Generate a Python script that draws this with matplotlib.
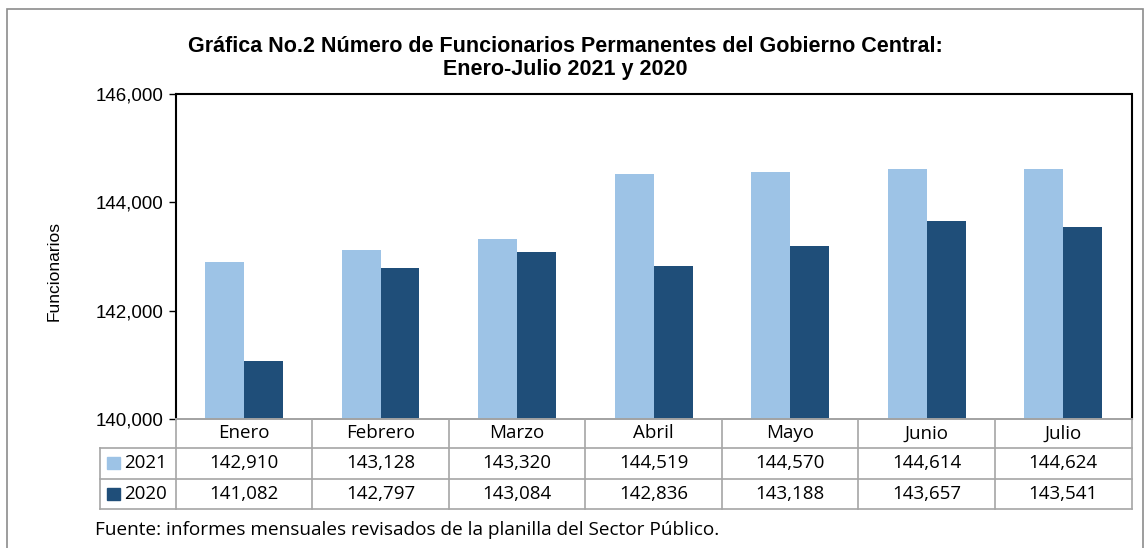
import matplotlib
matplotlib.use("Agg")
import matplotlib.pyplot as plt
import numpy as np
from matplotlib.patches import Rectangle
from matplotlib.lines import Line2D
from matplotlib.ticker import FuncFormatter

meses = ["Enero", "Febrero", "Marzo", "Abril", "Mayo", "Junio", "Julio"]
v2021 = [142910, 143128, 143320, 144519, 144570, 144614, 144624]
v2020 = [141082, 142797, 143084, 142836, 143188, 143657, 143541]
series = [("2021", v2021, "#9DC3E6"), ("2020", v2020, "#1F4E79")]

W, H = 1144, 548
fig = plt.figure(figsize=(W / 100, H / 100), dpi=100)

# axes placement in pixels
left, right, top, bottom = 175.7, 1131.5, 94, 419.3
ax = fig.add_axes([left / W, 1 - bottom / H, (right - left) / W, (bottom - top) / H])

x = np.arange(len(meses))
bw = 0.285
ax.bar(x - bw / 2, v2021, bw, color=series[0][2], zorder=2)
ax.bar(x + bw / 2, v2020, bw, color=series[1][2], zorder=2)

ax.set_xlim(-0.5, len(meses) - 0.5)
ax.set_ylim(140000, 146000)
ax.set_yticks([140000, 142000, 144000, 146000])
ax.yaxis.set_major_formatter(FuncFormatter(lambda v, p: f"{int(v):,}"))
ax.tick_params(axis="y", direction="out", length=5, width=1, labelsize=13.5, pad=4)
for t in ax.get_yticklabels():
    t.set_family("Liberation Sans")
ax.set_xticks([])
for s in ["left", "top", "right"]:
    ax.spines[s].set_color("black")
    ax.spines[s].set_linewidth(1.5)
ax.spines["bottom"].set_color("#8c8c8c")
ax.spines["bottom"].set_linewidth(1.2)

ax.set_ylabel("Funcionarios", family="Liberation Sans", fontsize=12.5)
ax.yaxis.set_label_coords((62 - left) / (right - left), (bottom - 271) / (bottom - top))

# data table below the axes (pixel rows)
grid = "#a6a6a6"
row_y = [419.3, 447.7, 478.7, 509]
legend_left = 100
tfont = dict(family=["Open Sans", "DejaVu Sans"], fontsize=13.5, color="black")


def fy(py):
    return 1 - py / H


def fx(px):
    return px / W


colw = (right - left) / len(meses)
# horizontal lines
fig.add_artist(Line2D([fx(left), fx(right)], [fy(row_y[0])] * 2, color=grid, lw=1.2))
for yy in row_y[1:]:
    fig.add_artist(Line2D([fx(legend_left), fx(right)], [fy(yy)] * 2, color=grid, lw=1.2))
# vertical lines
for i in range(len(meses) + 1):
    xx = left + i * colw
    fig.add_artist(Line2D([fx(xx)] * 2, [fy(row_y[0]), fy(row_y[-1])], color=grid, lw=1.2))
fig.add_artist(Line2D([fx(legend_left)] * 2, [fy(row_y[1]), fy(row_y[-1])], color=grid, lw=1.2))

for i, m in enumerate(meses):
    cx = left + (i + 0.5) * colw
    fig.text(fx(cx), fy((row_y[0] + row_y[1]) / 2), m, ha="center", va="center", **tfont)
    for r, (name, vals, col) in enumerate(series):
        cy = (row_y[r + 1] + row_y[r + 2]) / 2
        fig.text(fx(cx), fy(cy), f"{vals[i]:,}", ha="center", va="center", **tfont)

for r, (name, vals, col) in enumerate(series):
    cy = (row_y[r + 1] + row_y[r + 2]) / 2
    fig.add_artist(Rectangle((fx(107), fy(cy + 6)), 13 / W, 12 / H, color=col,
                             transform=fig.transFigure))
    fig.text(fx(124), fy(cy), name, ha="left", va="center", **tfont)

# titles
fig.text(fx(565), fy(46), "Gráfica No.2 Número de Funcionarios Permanentes del Gobierno Central:",
         ha="center", va="center", family="Liberation Sans", fontweight="bold", fontsize=15.5)
fig.text(fx(565), fy(70), "Enero-Julio 2021 y 2020",
         ha="center", va="center", family="Liberation Sans", fontweight="bold", fontsize=15.5)

fig.text(fx(95), fy(530), "Fuente: informes mensuales revisados de la planilla del Sector Público.",
         ha="left", va="center", family=["Open Sans", "DejaVu Sans"], fontsize=13.7)

# outer chart frame
fig.add_artist(Rectangle((fx(7), fy(560)), (1143 - 7) / W, (560 - 9) / H, fill=False,
                         edgecolor="#8c8c8c", lw=1.2, transform=fig.transFigure))

fig.savefig("out.png", dpi=100)
